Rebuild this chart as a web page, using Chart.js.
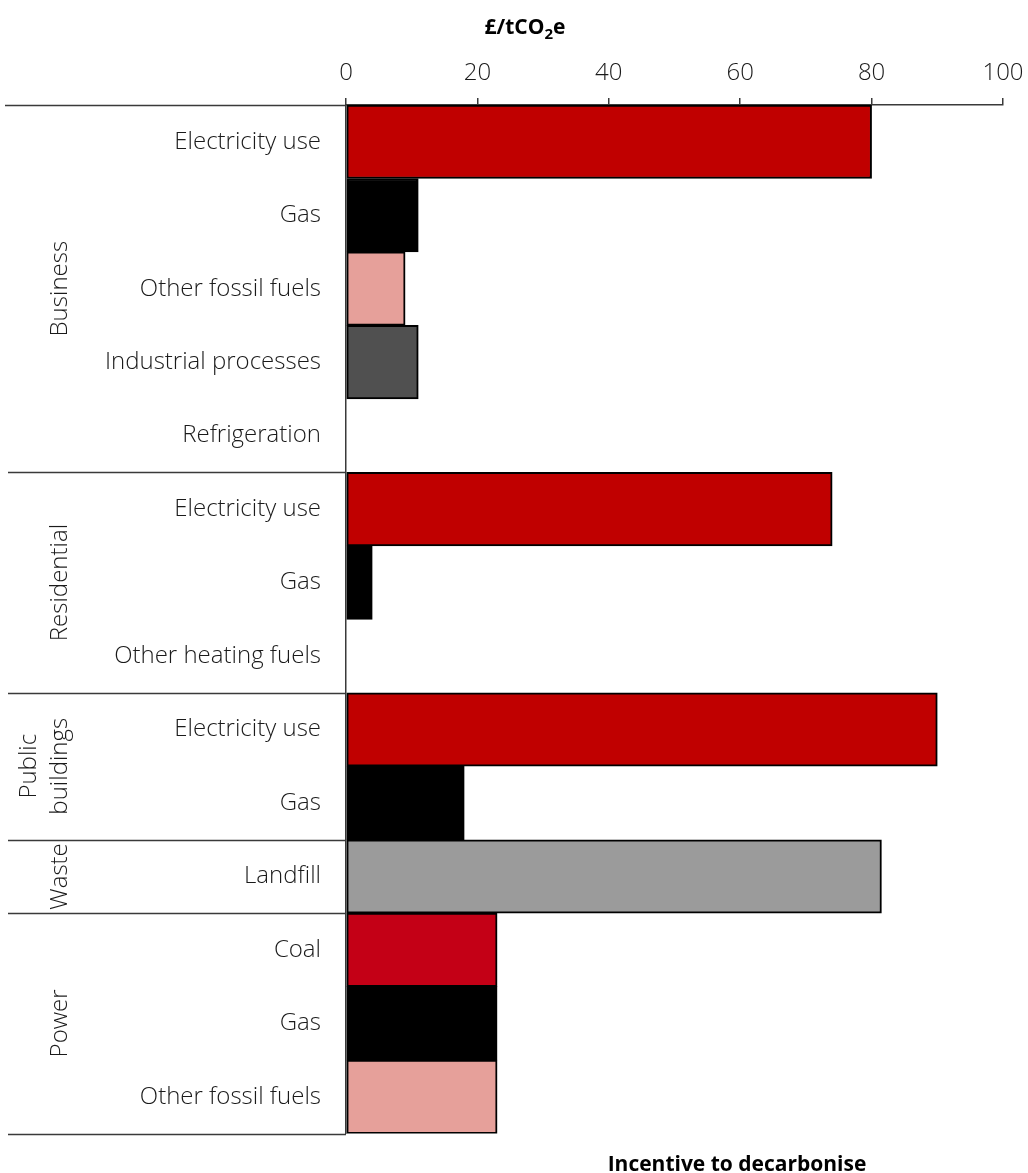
<!DOCTYPE html>
<html>
<head>
<meta charset="utf-8">
<script src="https://cdn.jsdelivr.net/npm/chart.js@4.4.1/dist/chart.umd.min.js"></script>
<style>
  html, body { margin: 0; padding: 0; background: #ffffff; }
  #wrap { width: 1028px; height: 1173px; position: relative; }
</style>
</head>
<body>
<div id="wrap"><canvas id="chart" width="1028" height="1173"></canvas></div>
<script>
// Sub-sector rows, top to bottom
const categories = [
  'Electricity use', 'Gas', 'Other fossil fuels', 'Industrial processes', 'Refrigeration',
  'Electricity use', 'Gas', 'Other heating fuels',
  'Electricity use', 'Gas',
  'Landfill',
  'Coal', 'Gas', 'Other fossil fuels'
];

// Incentive to decarbonise, £/tCO2e
const values = [80, 11, 9, 11, 0, 74, 4, 0, 90, 18, 81.5, 23, 23, 23];

// Sector groups (label lines) and how many rows each covers
const groupNames = [['Business'], ['Residential'], ['Public', 'buildings'], ['Waste'], ['Power']];
const groupSizes = [5, 3, 2, 1, 3];

const xTicks = [0, 20, 40, 60, 80, 100];
const unitTitle = ['£/tCO', '2', 'e'];
const bottomTitle = 'Incentive to decarbonise';

const FONT = '"Open Sans", "Noto Sans", sans-serif';

const barColors = [
  '#c00000', '#000000', '#e6a09a', '#505050', '#9b9b9b',
  '#c00000', '#000000', '#9b9b9b',
  '#c00000', '#000000',
  '#9b9b9b',
  '#c40016', '#000000', '#e6a09a'
];

const decorations = {
  id: 'decorations',
  afterDraw(chart) {
    const ctx = chart.ctx;
    const area = chart.chartArea;
    const rowH = (area.bottom - area.top) / categories.length;
    ctx.save();

    // Group separator rules in the label column
    ctx.strokeStyle = '#3a3a3a';
    ctx.lineWidth = 1.5;
    let row = 0;
    const bounds = [0];
    groupSizes.forEach(n => { row += n; bounds.push(row); });
    bounds.forEach((b, i) => {
      const yy = Math.round(area.top + b * rowH) + 0.5;
      ctx.beginPath();
      ctx.moveTo(i === 0 ? 5 : 8, yy);
      ctx.lineTo(area.left, yy);
      ctx.stroke();
    });

    // Rotated sector names
    ctx.fillStyle = '#1a1a1a';
    ctx.font = '300 24px ' + FONT;
    ctx.textAlign = 'center';
    ctx.textBaseline = 'middle';
    groupNames.forEach((lines, i) => {
      const cy = area.top + (bounds[i] + bounds[i + 1]) / 2 * rowH;
      const n = lines.length;
      lines.forEach((txt, j) => {
        const cx = 60 - (n - 1 - j) * 31;
        ctx.save();
        ctx.translate(cx, cy);
        ctx.rotate(-Math.PI / 2);
        ctx.fillText(txt, 0, 0);
        ctx.restore();
      });
    });

    // Unit title with subscript
    ctx.fillStyle = '#000000';
    ctx.textAlign = 'left';
    ctx.textBaseline = 'alphabetic';
    const big = 'bold 21px ' + FONT;
    const small = 'bold 15px ' + FONT;
    ctx.font = big;
    const w1 = ctx.measureText(unitTitle[0]).width;
    const w3 = ctx.measureText(unitTitle[2]).width;
    ctx.font = small;
    const w2 = ctx.measureText(unitTitle[1]).width;
    const x0 = 525 - (w1 + w2 + w3) / 2;
    const base = 34;
    ctx.font = big;
    ctx.fillText(unitTitle[0], x0, base);
    ctx.font = small;
    ctx.fillText(unitTitle[1], x0 + w1, base + 5);
    ctx.font = big;
    ctx.fillText(unitTitle[2], x0 + w1 + w2, base);

    // Bottom caption
    ctx.textAlign = 'center';
    ctx.fillText(bottomTitle, 737, 1171);

    ctx.restore();
  }
};

new Chart(document.getElementById('chart'), {
  type: 'bar',
  data: {
    labels: categories,
    datasets: [{
      data: values,
      backgroundColor: barColors,
      borderColor: '#000000',
      borderWidth: 2,
      borderSkipped: false,
      categoryPercentage: 1,
      barPercentage: 1
    }]
  },
  options: {
    indexAxis: 'y',
    responsive: false,
    animation: false,
    devicePixelRatio: 1,
    layout: { padding: { left: 0, right: 25, top: 0, bottom: 35 } },
    plugins: { legend: { display: false }, tooltip: { enabled: false }, title: { display: false } },
    scales: {
      x: {
        position: 'top',
        min: 0,
        max: 100,
        afterBuildTicks(scale) { scale.ticks = xTicks.map(v => ({ value: v })); },
        afterFit(scale) {
          scale.height = 105;
          scale.paddingLeft = 0;
          scale.paddingRight = 0;
        },
        ticks: {
          color: '#1a1a1a',
          font: { family: FONT, size: 24, weight: '300' },
          padding: 10,
          maxRotation: 0
        },
        grid: {
          drawOnChartArea: false,
          drawTicks: true,
          tickLength: 7,
          color: '#3a3a3a',
          lineWidth: 1.5
        },
        border: { display: true, color: '#3a3a3a', width: 1.5 }
      },
      y: {
        afterFit(scale) { scale.width = 346; },
        ticks: {
          color: '#1a1a1a',
          font: { family: FONT, size: 24, weight: '300' },
          padding: 25,
          autoSkip: false
        },
        grid: { display: false, drawTicks: false },
        border: { display: true, color: '#3a3a3a', width: 1.5 }
      }
    }
  },
  plugins: [decorations]
});
</script>
</body>
</html>
